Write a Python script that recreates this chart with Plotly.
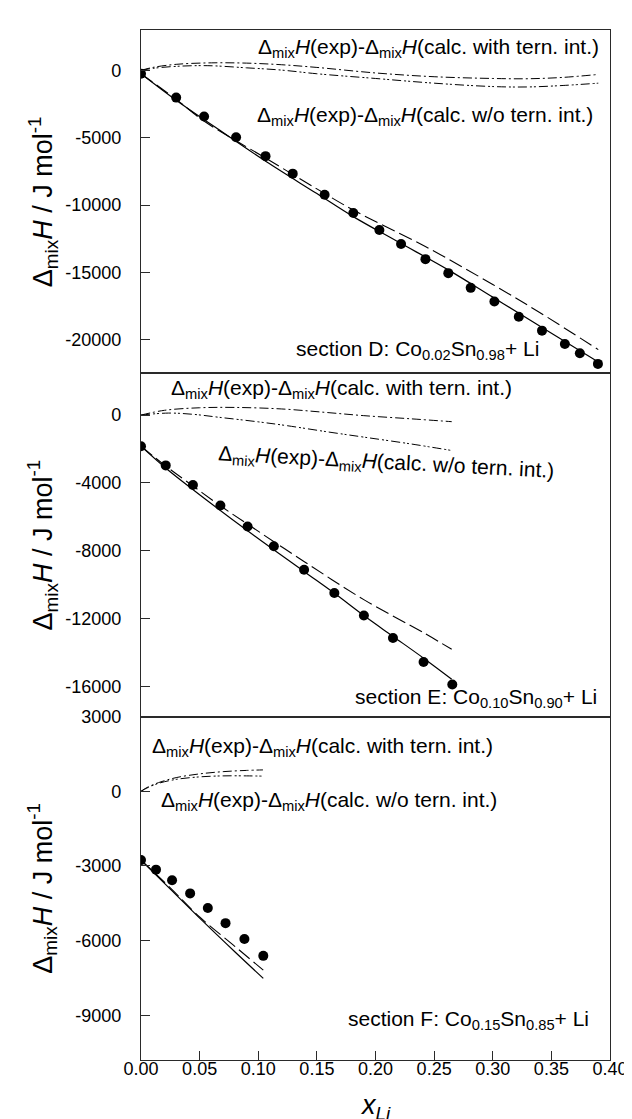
import plotly.graph_objects as go
from plotly.subplots import make_subplots

# ---------------- Section D: Co0.02Sn0.98 + Li ----------------
d_exp_x = [0.0, 0.0300, 0.0538, 0.0811, 0.1062, 0.1294, 0.1566, 0.1811, 0.2033, 0.2218,
           0.2426, 0.2621, 0.2812, 0.3014, 0.3222, 0.3420, 0.3615, 0.3743, 0.3897]
d_exp_y = [-250, -2020, -3430, -4960, -6370, -7670, -9230, -10590, -11850, -12890,
           -14020, -15060, -16150, -17160, -18300, -19330, -20320, -21010, -21800]
d_solid_x = [0, 0.03, 0.07, 0.107, 0.15, 0.181, 0.22, 0.262, 0.30, 0.34, 0.389]
d_solid_y = [-250, -2220, -4620, -6790, -9150, -10860, -12770, -14815, -16840, -18980, -21600]
d_dash_x = [0, 0.03, 0.054, 0.107, 0.15, 0.181, 0.2425, 0.30, 0.34, 0.39]
d_dash_y = [-250, -2150, -3780, -6550, -8800, -10370, -13080, -15900, -17980, -20740]
d_diff_with_x = [0, 0.01, 0.03, 0.06, 0.09, 0.12, 0.15, 0.2, 0.25, 0.3, 0.33, 0.36, 0.39]
d_diff_with_y = [0, 220, 450, 560, 540, 420, 220, -190, -470, -600, -620, -520, -300]
d_diff_wo_x = [0, 0.01, 0.03, 0.057, 0.09, 0.12, 0.15, 0.2, 0.25, 0.3, 0.33, 0.36, 0.39]
d_diff_wo_y = [0, 150, 300, 350, 190, 20, -250, -600, -950, -1200, -1230, -1120, -950]

# ---------------- Section E: Co0.10Sn0.90 + Li ----------------
e_exp_x = [0.0, 0.0211, 0.0443, 0.0677, 0.0909, 0.1133, 0.1391, 0.1649, 0.1901, 0.2149, 0.2410, 0.2655]
e_exp_y = [-1834, -2967, -4120, -5333, -6564, -7736, -9120, -10490, -11817, -13146, -14553, -15883]
e_solid_x = [0, 0.021, 0.045, 0.09, 0.139, 0.165, 0.19, 0.215, 0.241, 0.265]
e_solid_y = [-1834, -3120, -4430, -6780, -9220, -10510, -11820, -13050, -14330, -15570]
e_dash_x = [0, 0.021, 0.0443, 0.0677, 0.09, 0.139, 0.19, 0.241, 0.265]
e_dash_y = [-1834, -3000, -4180, -5350, -6390, -8630, -10880, -12830, -13810]
e_diff_with_x = [0, 0.02, 0.05, 0.08, 0.12, 0.157, 0.19, 0.23, 0.265]
e_diff_with_y = [0, 280, 430, 450, 360, 160, -35, -220, -390]
e_diff_wo_x = [0, 0.0235, 0.045, 0.067, 0.1, 0.124, 0.16, 0.19, 0.23, 0.265]
e_diff_wo_y = [0, 117, 40, -135, -400, -620, -1000, -1300, -1700, -2090]

# ---------------- Section F: Co0.15Sn0.85 + Li ----------------
f_exp_x = [0.0, 0.0128, 0.0265, 0.0419, 0.0570, 0.0721, 0.0882, 0.1043]
f_exp_y = [-2765, -3148, -3574, -4104, -4689, -5299, -5936, -6614]
f_solid_x = [0, 0.025, 0.0536, 0.08, 0.1043]
f_solid_y = [-2765, -3930, -5260, -6450, -7520]
f_dash_x = [0, 0.025, 0.05, 0.08, 0.1043]
f_dash_y = [-2765, -3880, -5050, -6230, -7190]
f_diff_with_x = [0, 0.005, 0.015, 0.03, 0.05, 0.07, 0.09, 0.104]
f_diff_with_y = [0, 150, 350, 550, 700, 790, 840, 860]
f_diff_wo_x = [0, 0.005, 0.015, 0.03, 0.05, 0.07, 0.09, 0.104]
f_diff_wo_y = [0, 130, 320, 480, 580, 620, 620, 610]

# ---------------- axes ----------------
x_ticks = [0.0, 0.05, 0.10, 0.15, 0.20, 0.25, 0.30, 0.35, 0.40]
x_ticktext = ["0.00", "0.05", "0.10", "0.15", "0.20", "0.25", "0.30", "0.35", "0.40"]
d_yticks = [-20000, -15000, -10000, -5000, 0]
e_yticks = [-16000, -12000, -8000, -4000, 0]
f_yticks = [-9000, -6000, -3000, 0, 3000]

FONT = "Liberation Sans, Arial, sans-serif"
LC = "#2a2a2a"

fig = make_subplots(rows=3, cols=1, shared_xaxes=True, vertical_spacing=0)

panels = [
    (1, d_exp_x, d_exp_y, d_solid_x, d_solid_y, d_dash_x, d_dash_y,
     d_diff_with_x, d_diff_with_y, d_diff_wo_x, d_diff_wo_y),
    (2, e_exp_x, e_exp_y, e_solid_x, e_solid_y, e_dash_x, e_dash_y,
     e_diff_with_x, e_diff_with_y, e_diff_wo_x, e_diff_wo_y),
    (3, f_exp_x, f_exp_y, f_solid_x, f_solid_y, f_dash_x, f_dash_y,
     f_diff_with_x, f_diff_with_y, f_diff_wo_x, f_diff_wo_y),
]

for (r, ex, ey, sx, sy, dx, dy, wx, wy, ox, oy) in panels:
    fig.add_trace(go.Scatter(x=wx, y=wy, mode="lines", line_shape="spline",
                             line=dict(color="black", width=1, dash="9px,3px,2px,3px")), row=r, col=1)
    fig.add_trace(go.Scatter(x=ox, y=oy, mode="lines", line_shape="spline",
                             line=dict(color="black", width=1, dash="9px,3px,2px,2px,2px,3px")), row=r, col=1)
    fig.add_trace(go.Scatter(x=dx, y=dy, mode="lines", line_shape="spline",
                             line=dict(color="black", width=1.1, dash="14px,5px")), row=r, col=1)
    fig.add_trace(go.Scatter(x=sx, y=sy, mode="lines", line_shape="spline",
                             line=dict(color="black", width=1.2)), row=r, col=1)
    fig.add_trace(go.Scatter(x=ex, y=ey, mode="markers",
                             marker=dict(color="black", size=10, symbol="circle")), row=r, col=1)

axis_common = dict(showline=True, linecolor=LC, linewidth=1.2, mirror=True,
                   showgrid=False, zeroline=False,
                   tickfont=dict(family=FONT, size=18, color="black"))

for i in (1, 2, 3):
    xa = dict(axis_common, range=[0, 0.4], tickvals=x_ticks, ticktext=x_ticktext)
    if i == 3:
        xa.update(ticks="inside", ticklen=9, tickcolor=LC, showticklabels=True,
                  ticklabelstandoff=-8)
    else:
        xa.update(ticks="", showticklabels=False)
    fig.update_layout(**{("xaxis" if i == 1 else f"xaxis{i}"): xa})

yranges = {1: [-22500, 3000], 2: [-17780, 2460], 3: [-10800, 3000]}
yticks = {1: d_yticks, 2: e_yticks, 3: f_yticks}
for i in (1, 2, 3):
    ya = dict(axis_common, range=yranges[i], tickvals=yticks[i],
              ticktext=[str(v) for v in yticks[i]],
              ticks="inside", ticklen=9, tickcolor=LC, ticklabelstandoff=15)
    fig.update_layout(**{("yaxis" if i == 1 else f"yaxis{i}"): ya})

lab_with = "Δ<sub>mix</sub><i>H</i>(exp)-Δ<sub>mix</sub><i>H</i>(calc. with tern. int.)"
lab_wo = "Δ<sub>mix</sub><i>H</i>(exp)-Δ<sub>mix</sub><i>H</i>(calc. w/o tern. int.)"
AF = dict(family=FONT, size=21, color="black")

annots = [
    dict(text=lab_with, x=0.3918, y=1700, xref="x", yref="y", xanchor="right", yanchor="middle"),
    dict(text=lab_wo, x=0.386, y=-3356, xref="x", yref="y", xanchor="right", yanchor="middle"),
    dict(text="section D: Co<sub>0.02</sub>Sn<sub>0.98</sub>+ Li", x=0.3407, y=-20763,
         xref="x", yref="y", xanchor="right", yanchor="middle"),
    dict(text=lab_with, x=0.0249, y=1524, xref="x2", yref="y2", xanchor="left", yanchor="middle"),
    dict(text=lab_wo, x=0.2087, y=-2813, xref="x2", yref="y2", xanchor="center", yanchor="middle",
         textangle=3),
    dict(text="section E: Co<sub>0.10</sub>Sn<sub>0.90</sub>+ Li", x=0.3894, y=-16680,
         xref="x2", yref="y2", xanchor="right", yanchor="middle"),
    dict(text=lab_with, x=0.0081, y=1777, xref="x3", yref="y3", xanchor="left", yanchor="middle"),
    dict(text=lab_wo, x=0.0165, y=-374, xref="x3", yref="y3", xanchor="left", yanchor="middle"),
    dict(text="section F: Co<sub>0.15</sub>Sn<sub>0.85</sub>+ Li", x=0.3827, y=-9203,
         xref="x3", yref="y3", xanchor="right", yanchor="middle"),
]
for a in annots:
    a.update(showarrow=False, font=AF, borderpad=0)

ytitle = "Δ<sub>mix</sub><i>H</i> / J mol<sup>-1</sup>"
TF = dict(family=FONT, size=27, color="black")
for yc in (0.8333, 0.5, 0.1667):
    annots.append(dict(text=ytitle, x=-0.21, y=yc, xref="paper", yref="paper",
                       xanchor="center", yanchor="middle", textangle=-90,
                       showarrow=False, font=TF))
annots.append(dict(text="<i>x</i><sub><i>Li</i></sub>", x=0.5, y=-0.046, xref="paper", yref="paper",
                   xanchor="center", yanchor="middle", showarrow=False, font=TF))

fig.update_layout(
    width=632, height=1119,
    margin=dict(l=133, r=19, t=15, b=67),
    paper_bgcolor="white", plot_bgcolor="white",
    showlegend=False,
    annotations=annots,
    font=dict(family=FONT, color="black"),
)

fig.write_html("out.html")
